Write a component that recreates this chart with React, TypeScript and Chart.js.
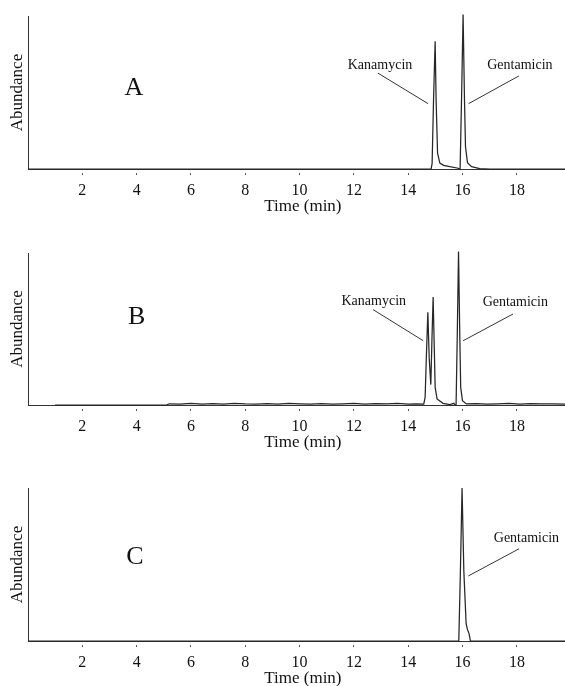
import React, { useEffect, useRef } from 'react';
import { Chart, registerables } from 'chart.js';

Chart.register(...registerables);

const FONT = '"Liberation Serif", "Times New Roman", serif';

// ---- data ----
const xTickValues = [2, 4, 6, 8, 10, 12, 14, 16, 18];
const X_MIN = 0;
const X_MAX = 19.77;
const xAxisTitle = 'Time (min)';
const yAxisTitle = 'Abundance';

const timesA = [0, 14.84, 14.878, 14.93, 14.989, 15.025, 15.078, 15.162, 15.3, 15.529, 15.835, 15.908, 15.96, 16.018, 16.07, 16.107, 16.18, 16.33, 16.63, 17.0, 19.77];
const abundanceA = [0, 0, 0.037, 0.45, 0.835, 0.45, 0.104, 0.039, 0.024, 0.015, 0.005, -0.002, 0.45, 1.01, 0.45, 0.145, 0.041, 0.015, 0.002, 0, 0];

const timesB = [1.0, 5.1, 5.2, 5.6, 6.0, 6.4, 6.8, 7.2, 7.6, 8.0, 8.4, 8.8, 9.2, 9.6, 10.0, 10.4, 10.8, 11.2, 11.6, 12.0, 12.4, 12.8, 13.2, 13.6, 14.0, 14.3, 14.57, 14.62, 14.67, 14.72, 14.77, 14.83, 14.87, 14.915, 14.99, 15.06, 15.28, 15.53, 15.68, 15.71, 15.76, 15.8, 15.85, 15.9, 15.93, 15.995, 16.14, 16.5, 16.9, 17.3, 17.7, 18.1, 18.5, 18.9, 19.3, 19.77];
const abundanceB = [0, 0, 0.008, 0.006, 0.01, 0.005, 0.009, 0.006, 0.011, 0.007, 0.005, 0.009, 0.006, 0.01, 0.007, 0.005, 0.009, 0.006, 0.008, 0.011, 0.006, 0.009, 0.007, 0.01, 0.006, 0.008, 0.006, 0.05, 0.34, 0.61, 0.31, 0.134, 0.42, 0.71, 0.116, 0.04, 0.011, 0.002, 0.011, 0.002, 0, 0.42, 1.01, 0.42, 0.116, 0.028, 0.007, 0.009, 0.006, 0.008, 0.01, 0.006, 0.009, 0.007, 0.008, 0.006];

const timesC = [0, 15.86, 15.92, 15.98, 16.045, 16.13, 16.18, 16.24, 16.29, 19.77];
const abundanceC = [0, 0, 0.46, 1.0, 0.46, 0.113, 0.074, 0.047, 0, 0];

const panelLetters = ['A', 'B', 'C'];

// ---- panel layout / annotations (data coordinates) ----
type Label = { text: string; at: [number, number]; from: [number, number]; to: [number, number] };
type PanelCfg = {
  letter: string;
  times: number[];
  values: number[];
  top: number;
  padTop: number;
  letterAt: [number, number];
  labels: Label[];
};

const panels: PanelCfg[] = [
  {
    letter: panelLetters[0], times: timesA, values: abundanceA, top: 0, padTop: 16,
    letterAt: [3.9, 0.529],
    labels: [
      { text: 'Kanamycin', at: [12.96, 0.68], from: [12.88, 0.627], to: [14.73, 0.427] },
      { text: 'Gentamicin', at: [18.11, 0.68], from: [18.07, 0.608], to: [16.22, 0.427] },
    ],
  },
  {
    letter: panelLetters[1], times: timesB, values: abundanceB, top: 236, padTop: 17,
    letterAt: [4.0, 0.579],
    labels: [
      { text: 'Kanamycin', at: [12.73, 0.684], from: [12.7, 0.628], to: [14.55, 0.423] },
      { text: 'Gentamicin', at: [17.94, 0.676], from: [17.86, 0.599], to: [16.02, 0.423] },
    ],
  },
  {
    letter: panelLetters[2], times: timesC, values: abundanceC, top: 472, padTop: 16,
    letterAt: [3.94, 0.549],
    labels: [
      { text: 'Gentamicin', at: [18.35, 0.671], from: [18.08, 0.603], to: [16.21, 0.425] },
    ],
  },
];

const CANVAS_W = 565;
const CANVAS_H = 217;
const X_TITLE_AT = 10.12; // centre of the x-axis title, in minutes

function makeAnnotPlugin(p: PanelCfg) {
  return {
    id: 'annot' + p.letter,
    afterDatasetsDraw(chart: any) {
      const { ctx, chartArea } = chart;
      const x = chart.scales.x;
      const y = chart.scales.y;
      ctx.save();
      ctx.fillStyle = '#111';
      ctx.textAlign = 'center';
      ctx.textBaseline = 'middle';
      ctx.font = `26px ${FONT}`;
      ctx.fillText(p.letter, x.getPixelForValue(p.letterAt[0]), y.getPixelForValue(p.letterAt[1]));
      ctx.font = `17px ${FONT}`;
      ctx.fillText(xAxisTitle, x.getPixelForValue(X_TITLE_AT), chartArea.bottom + 38);
      ctx.font = `14px ${FONT}`;
      for (const a of p.labels) {
        ctx.fillText(a.text, x.getPixelForValue(a.at[0]), y.getPixelForValue(a.at[1]));
        ctx.beginPath();
        ctx.strokeStyle = '#333';
        ctx.lineWidth = 1;
        ctx.moveTo(x.getPixelForValue(a.from[0]), y.getPixelForValue(a.from[1]));
        ctx.lineTo(x.getPixelForValue(a.to[0]), y.getPixelForValue(a.to[1]));
        ctx.stroke();
      }
      ctx.restore();
    },
  };
}

function Panel({ p }: { p: PanelCfg }) {
  const ref = useRef<HTMLCanvasElement | null>(null);
  useEffect(() => {
    if (!ref.current) return;
    const chart = new Chart(ref.current, {
      type: 'line',
      data: {
        datasets: [
          {
            data: p.times.map((t, i) => ({ x: t, y: p.values[i] })),
            borderColor: '#262626',
            borderWidth: 1.25,
            pointRadius: 0,
            tension: 0,
            fill: false,
            clip: false as any,
          },
        ],
      },
      options: {
        animation: false,
        responsive: false,
        devicePixelRatio: 1,
        layout: { padding: { top: p.padTop, left: 0, right: 0, bottom: 0 } },
        plugins: { legend: { display: false }, tooltip: { enabled: false } },
        scales: {
          x: {
            type: 'linear',
            min: X_MIN,
            max: X_MAX,
            afterBuildTicks: (s: any) => {
              s.ticks = xTickValues.map((v) => ({ value: v }));
            },
            afterFit: (s: any) => {
              s.height = 48;
            },
            ticks: {
              font: { family: FONT, size: 16 },
              color: '#111',
              padding: 6,
              maxRotation: 0,
              autoSkip: false,
            },
            grid: {
              display: true,
              drawOnChartArea: false,
              drawTicks: true,
              tickLength: 6,
              tickColor: '#555',
              tickWidth: 1,
              tickBorderDash: [3, 3],
              tickBorderDashOffset: 3,
            },
            border: { display: true, color: '#333', width: 1 },
            title: { display: false },
          },
          y: {
            min: 0,
            max: 1,
            ticks: { display: false },
            grid: { display: false },
            border: { display: true, color: '#333', width: 1 },
            afterFit: (s: any) => {
              s.width = 28;
            },
            title: {
              display: true,
              text: yAxisTitle,
              font: { family: FONT, size: 17 },
              color: '#111',
              padding: { top: 7.5, bottom: 0 },
            },
          },
        },
      } as any,
      plugins: [makeAnnotPlugin(p)],
    });
    return () => chart.destroy();
  }, []);
  return (
    <canvas
      ref={ref}
      width={CANVAS_W}
      height={CANVAS_H}
      style={{ position: 'absolute', left: 0, top: p.top, width: CANVAS_W, height: CANVAS_H }}
    />
  );
}

export default function App() {
  return (
    <div
      style={{
        position: 'fixed',
        left: 0,
        top: 0,
        width: 565,
        height: 686,
        overflow: 'hidden',
        background: '#fff',
      }}
    >
      {panels.map((p) => (
        <Panel key={p.letter} p={p} />
      ))}
    </div>
  );
}
